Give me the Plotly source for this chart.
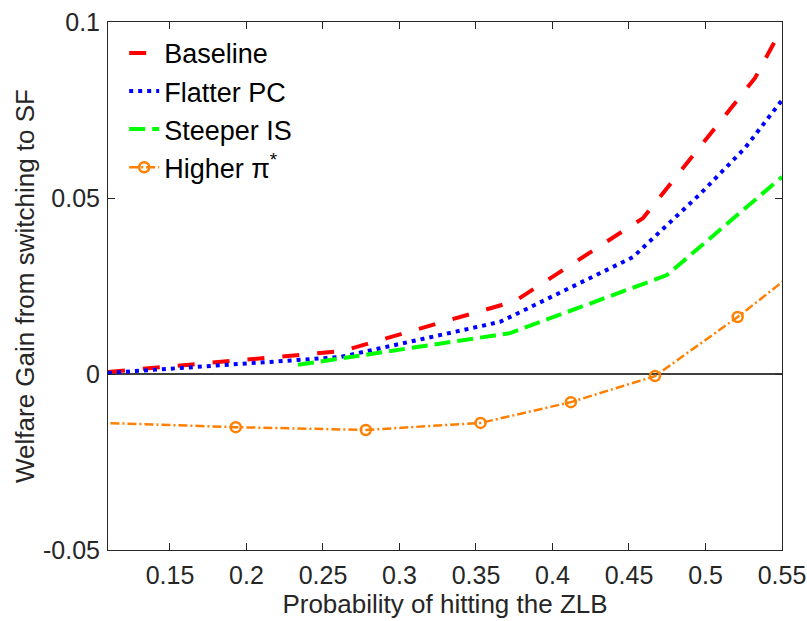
import plotly.graph_objects as go

# ---- data ----
baseline_x = [0.1095, 0.2624, 0.3755, 0.4592, 0.5324, 0.55]
baseline_y = [0.0006, 0.0065, 0.0207, 0.0443, 0.0841, 0.0983]

flatter_x = [0.1095, 0.2611, 0.3657, 0.4526, 0.4964, 0.5258, 0.55]
flatter_y = [0.0003, 0.0048, 0.0148, 0.0332, 0.0511, 0.0642, 0.0778]

steeper_x = [0.2337, 0.3722, 0.4748, 0.55]
steeper_y = [0.0026, 0.0116, 0.0281, 0.0560]

higher_x = [0.100, 0.193, 0.278, 0.353, 0.412, 0.467, 0.521, 0.575]
higher_y = [-0.0138, -0.0151, -0.0159, -0.0139, -0.0080, -0.0006, 0.0162, 0.0346]

x_ticks = [0.15, 0.2, 0.25, 0.3, 0.35, 0.4, 0.45, 0.5, 0.55]
x_ticklabels = ["0.15", "0.2", "0.25", "0.3", "0.35", "0.4", "0.45", "0.5", "0.55"]
y_ticks = [-0.05, 0, 0.05, 0.1]
y_ticklabels = ["-0.05", "0", "0.05", "0.1"]

FONT = "Liberation Sans, Arial, sans-serif"
AX = "#262626"

fig = go.Figure()
fig.add_trace(go.Scatter(x=baseline_x, y=baseline_y, mode="lines", name="Baseline",
                         line=dict(color="#ff0000", width=4, dash="17px,18px")))
fig.add_trace(go.Scatter(x=flatter_x, y=flatter_y, mode="lines", name="Flatter PC",
                         line=dict(color="#0000ff", width=4, dash="4px,5px")))
fig.add_trace(go.Scatter(x=steeper_x, y=steeper_y, mode="lines", name="Steeper IS",
                         line=dict(color="#00ff00", width=4, dash="16px,7px")))
fig.add_trace(go.Scatter(x=higher_x, y=higher_y, mode="lines+markers",
                         name="Higher π<sup>*</sup>",
                         line=dict(color="#ff8000", width=2.5, dash="9px,3px,2px,3px"),
                         marker=dict(symbol="circle-open", size=10, color="#ff8000",
                                     line=dict(width=2.5, color="#ff8000"))))

fig.add_hline(y=0, line=dict(color="black", width=1.5), layer="below")

fig.update_layout(
    width=807, height=621,
    margin=dict(l=108, r=25, t=22, b=71, autoexpand=False),
    paper_bgcolor="white", plot_bgcolor="white",
    font=dict(family=FONT, size=25, color=AX),
    showlegend=True,
    legend=dict(x=0.024, y=0.987, xanchor="left", yanchor="top",
                bgcolor="rgba(255,255,255,0)", borderwidth=0,
                font=dict(family=FONT, size=27, color="black"),
                tracegroupgap=0, itemwidth=30),
    xaxis=dict(range=[0.1095, 0.55], tickvals=x_ticks, ticktext=x_ticklabels,
               ticks="inside", ticklen=7, tickcolor=AX, showgrid=False, zeroline=False,
               showline=True, linecolor=AX, linewidth=1, mirror="ticks",
               automargin=False, ticklabelstandoff=3, ticklabeloverflow="allow",
               tickfont=dict(size=25, color=AX),
               title=dict(text="Probability of hitting the ZLB", font=dict(size=26, color=AX),
                          standoff=5)),
    yaxis=dict(range=[-0.05, 0.1], tickvals=y_ticks, ticktext=y_ticklabels,
               ticks="inside", ticklen=7, tickcolor=AX, showgrid=False, zeroline=False,
               showline=True, linecolor=AX, linewidth=1, mirror="ticks",
               automargin=False, ticklabelstandoff=2, ticklabeloverflow="allow",
               tickfont=dict(size=25, color=AX),
               title=dict(text="Welfare Gain from switching to SF", font=dict(size=26, color=AX),
                          standoff=0)),
)

fig.write_html(
    "out.html",
    config={"displayModeBar": False},
    post_script="document.body.style.margin='0';document.body.style.overflow='hidden';",
)
